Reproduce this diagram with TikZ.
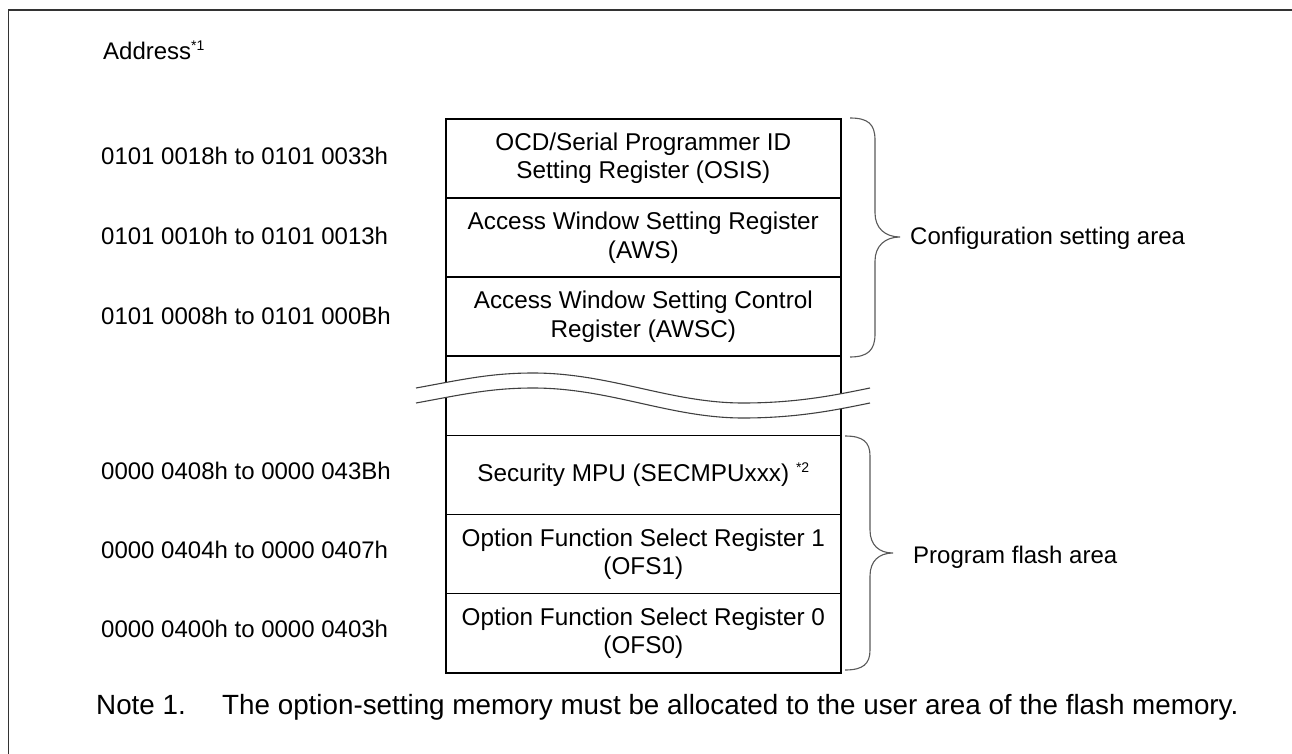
\documentclass[tikz,border=0pt]{standalone}
\usepackage{fontspec}
\setmainfont{Liberation Sans}
\newcommand{\supmark}[1]{\raisebox{9pt}{\fontsize{14}{14}\selectfont #1}}
\tikzset{
  txt/.style={inner sep=0pt, font=\fontsize{24}{28}\selectfont},
  notetxt/.style={inner sep=0pt, font=\fontsize{27.8}{32}\selectfont},
  regbox/.style={draw=black, line width=1.6pt, minimum width=395pt, minimum height=79.14pt,
    inner sep=0pt, align=center, anchor=north west, font=\fontsize{24.3}{28.5}\selectfont},
  bracestyle/.style={draw=black!65, line width=1.1pt},
  wavestyle/.style={draw=black!75, line width=1.1pt},
  framestyle/.style={draw=black!80, line width=1.6pt}
}
\begin{document}
\begin{tikzpicture}[x=1pt,y=-1pt]
\useasboundingbox (0,0) rectangle (1292,754);
% frame
\draw[framestyle] (8.5,760) -- (8.5,10) -- (1300,10);

% heading
\node[txt, anchor=base west] (addr) at (103,60) {Address\supmark{*1}};

% register boxes
\node[regbox] (b1) at (445,118)        {OCD/Serial Programmer ID\\Setting Register (OSIS)};
\node[regbox] (b2) at (445,197.14)     {Access Window Setting Register\\(AWS)};
\node[regbox] (b3) at (445,276.28)     {Access Window Setting Control\\Register (AWSC)};
\node[regbox] (b4) at (445,355.42)     {};
\node[regbox] (b5) at (445,434.56)     {Security MPU (SECMPUxxx) \supmark{*2}};
\node[regbox] (b6) at (445,513.70)     {Option Function Select Register 1\\(OFS1)};
\node[regbox] (b7) at (445,592.84)     {Option Function Select Register 0\\(OFS0)};

% break waves
\fill[white] (416,388) .. controls (460,380) and (490,373) .. (533,373)
  .. controls (610,373) and (670,403) .. (743,403)
  .. controls (800,403) and (840,394) .. (870,388)
  -- (870,403) .. controls (840,409) and (800,418) .. (743,418)
  .. controls (670,418) and (610,388) .. (533,388)
  .. controls (490,388) and (460,395) .. (416,403) -- cycle;
\draw[wavestyle] (416,388) .. controls (460,380) and (490,373) .. (533,373)
  .. controls (610,373) and (670,403) .. (743,403)
  .. controls (800,403) and (840,394) .. (870,388);
\draw[wavestyle] (416,403) .. controls (460,395) and (490,388) .. (533,388)
  .. controls (610,388) and (670,418) .. (743,418)
  .. controls (800,418) and (840,409) .. (870,403);

% addresses
\node[txt, anchor=base west] (a1) at (101,165) {0101 0018h to 0101 0033h};
\node[txt, anchor=base west] (a2) at (101,244) {0101 0010h to 0101 0013h};
\node[txt, anchor=base west] (a3) at (101,324) {0101 0008h to 0101 000Bh};
\node[txt, anchor=base west] (a5) at (101,479) {0000 0408h to 0000 043Bh};
\node[txt, anchor=base west] (a6) at (101,558) {0000 0404h to 0000 0407h};
\node[txt, anchor=base west] (a7) at (101,637) {0000 0400h to 0000 0403h};

% braces
\draw[bracestyle] (850,118) .. controls (868,118) and (875,124) .. (875,140)
  -- (875,213) .. controls (875,228) and (885,237) .. (900,237)
  .. controls (885,237) and (875,246) .. (875,261)
  -- (875,334) .. controls (875,350) and (868,357) .. (850,357);
\draw[bracestyle] (845,436) .. controls (863,436) and (870,442) .. (870,456)
  -- (870,530) .. controls (870,545) and (879,553) .. (893,553)
  .. controls (879,553) and (870,561) .. (870,576)
  -- (870,650) .. controls (870,664) and (863,670) .. (845,670);

\node[txt, anchor=base west] (cfg) at (910,244) {Configuration setting area};
\node[txt, anchor=base west] (pfa) at (913,563) {Program flash area};

% note
\node[notetxt, anchor=base west] (n1) at (96,714) {Note 1.};
\node[notetxt, anchor=base west] (n2) at (222,714) {The option-setting memory must be allocated to the user area of the flash memory.};
\end{tikzpicture}
\end{document}
